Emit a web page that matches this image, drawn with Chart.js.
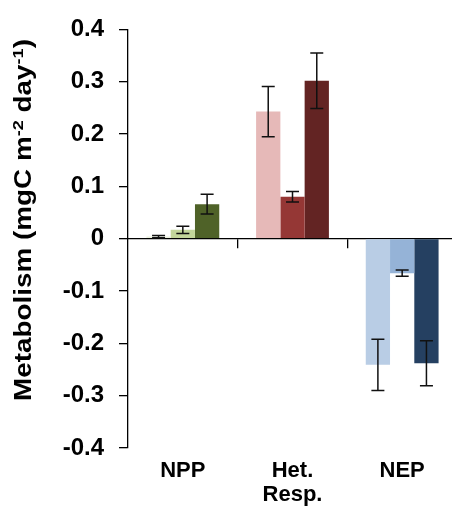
<!DOCTYPE html>
<html><head><meta charset="utf-8">
<script src="https://cdn.jsdelivr.net/npm/chart.js@4/dist/chart.umd.min.js"></script>
<style>
html,body{margin:0;padding:0;background:#fff;overflow:hidden;width:452px;height:518px;}
#wrap{position:relative;width:462px;height:518px;}
</style></head><body>
<div id="wrap"><canvas id="c" width="462" height="518"></canvas></div>
<script>
// ---- data ----
const categories = [['NPP'], ['Het.', 'Resp.'], ['NEP']];
const series1 = [0.004, 0.243, -0.241];
const series2 = [0.017, 0.080, -0.066];
const series3 = [0.066, 0.302, -0.238];
const errors1 = [0.002, 0.048, 0.049];
const errors2 = [0.007, 0.010, 0.006];
const errors3 = [0.019, 0.053, 0.043];
const yTickValues = [-0.4, -0.3, -0.2, -0.1, 0, 0.1, 0.2, 0.3, 0.4];
const yTitleParts = [['Metabolism (mgC m', false], ['-2', true], [' day', false], ['-1', true], [')', false]];

// ---- styles ----
const palette = {
  s1: ['#ebf1de', '#e6b9b8', '#b9cde5'],
  s2: ['#c3d69b', '#953735', '#95b3d7'],
  s3: ['#4f6228', '#632423', '#254061']
};
const FONT = "'Liberation Sans', Arial, sans-serif";

const errorBarPlugin = {
  id: 'errorBars',
  afterDatasetsDraw(chart) {
    const ctx = chart.ctx;
    const y = chart.scales.y;
    ctx.save();
    ctx.strokeStyle = '#111';
    ctx.lineWidth = 1.5;
    chart.data.datasets.forEach((ds, i) => {
      const meta = chart.getDatasetMeta(i);
      meta.data.forEach((el, j) => {
        const v = ds.data[j], e = ds.errors[j];
        const x = el.x;
        const yt = y.getPixelForValue(v + e);
        const yb = y.getPixelForValue(v - e);
        const half = 6.5;
        ctx.beginPath();
        ctx.moveTo(x, yt); ctx.lineTo(x, yb);
        ctx.moveTo(x - half, yt); ctx.lineTo(x + half, yt);
        ctx.moveTo(x - half, yb); ctx.lineTo(x + half, yb);
        ctx.stroke();
      });
    });
    ctx.restore();
  }
};

const yTitlePlugin = {
  id: 'yTitle',
  afterDraw(chart) {
    const ctx = chart.ctx;
    const size = 23, supSize = 15;
    const main = 'bold ' + size + 'px ' + FONT;
    const sup = 'bold ' + supSize + 'px ' + FONT;
    ctx.save();
    let total = 0;
    const widths = yTitleParts.map(([t, s]) => { ctx.font = s ? sup : main; const w = ctx.measureText(t).width; total += w; return w; });
    const targetLen = 362;
    const sx = targetLen / total;
    ctx.translate(31, 220);
    ctx.rotate(-Math.PI / 2);
    ctx.scale(sx, 1);
    ctx.fillStyle = '#000';
    ctx.textBaseline = 'alphabetic';
    ctx.textAlign = 'left';
    let x = -total / 2;
    yTitleParts.forEach(([t, s], k) => {
      ctx.font = s ? sup : main;
      ctx.fillText(t, x, s ? -8 : 0);
      x += widths[k];
    });
    ctx.restore();
  }
};

const tickFont = { family: FONT, size: 24, weight: 'bold' };

new Chart(document.getElementById('c'), {
  type: 'bar',
  data: {
    labels: categories,
    datasets: [
      { data: series1, errors: errors1, backgroundColor: palette.s1, borderWidth: 0 },
      { data: series2, errors: errors2, backgroundColor: palette.s2, borderWidth: 0 },
      { data: series3, errors: errors3, backgroundColor: palette.s3, borderWidth: 0 }
    ]
  },
  options: {
    responsive: false,
    animation: false,
    events: [],
    layout: { padding: { top: 27, right: 5, left: 0, bottom: 0 } },
    plugins: { legend: { display: false }, tooltip: { enabled: false }, title: { display: false } },
    datasets: { bar: { barPercentage: 1, categoryPercentage: 0.664 } },
    scales: {
      x: {
        type: 'category',
        position: 'bottom',
        offset: true,
        border: { display: false },
        grid: { display: false, drawTicks: false },
        ticks: { font: { family: FONT, size: 22, weight: 'bold', lineHeight: 1.1 }, color: '#000', padding: 11, maxRotation: 0, autoSkip: false },
        afterFit(s) { s.height = 70; }
      },
      x0: {
        type: 'category',
        axis: 'x',
        labels: categories,
        position: { y: 0 },
        offset: true,
        border: { display: true, color: '#000', width: 1.3 },
        grid: { drawOnChartArea: false, drawTicks: true, tickLength: 9, offset: true, lineWidth: 1.3,
                color: c => (c.index === 0 ? 'rgba(0,0,0,0)' : '#000') },
        ticks: { display: false }
      },
      y: {
        min: -0.4, max: 0.4,
        afterBuildTicks(axis) { axis.ticks = yTickValues.map(v => ({ value: v })); },
        border: { display: true, color: '#000', width: 1.3 },
        grid: { drawOnChartArea: false, drawTicks: true, tickLength: 9, color: '#000', lineWidth: 1.3 },
        ticks: { font: tickFont, color: '#000', padding: 15,
                 callback: v => (Math.abs(v) < 1e-9 ? '0' : v.toFixed(1)) },
        afterFit(s) { s.width = 128; }
      }
    }
  },
  plugins: [errorBarPlugin, yTitlePlugin]
});
</script>
</body></html>
